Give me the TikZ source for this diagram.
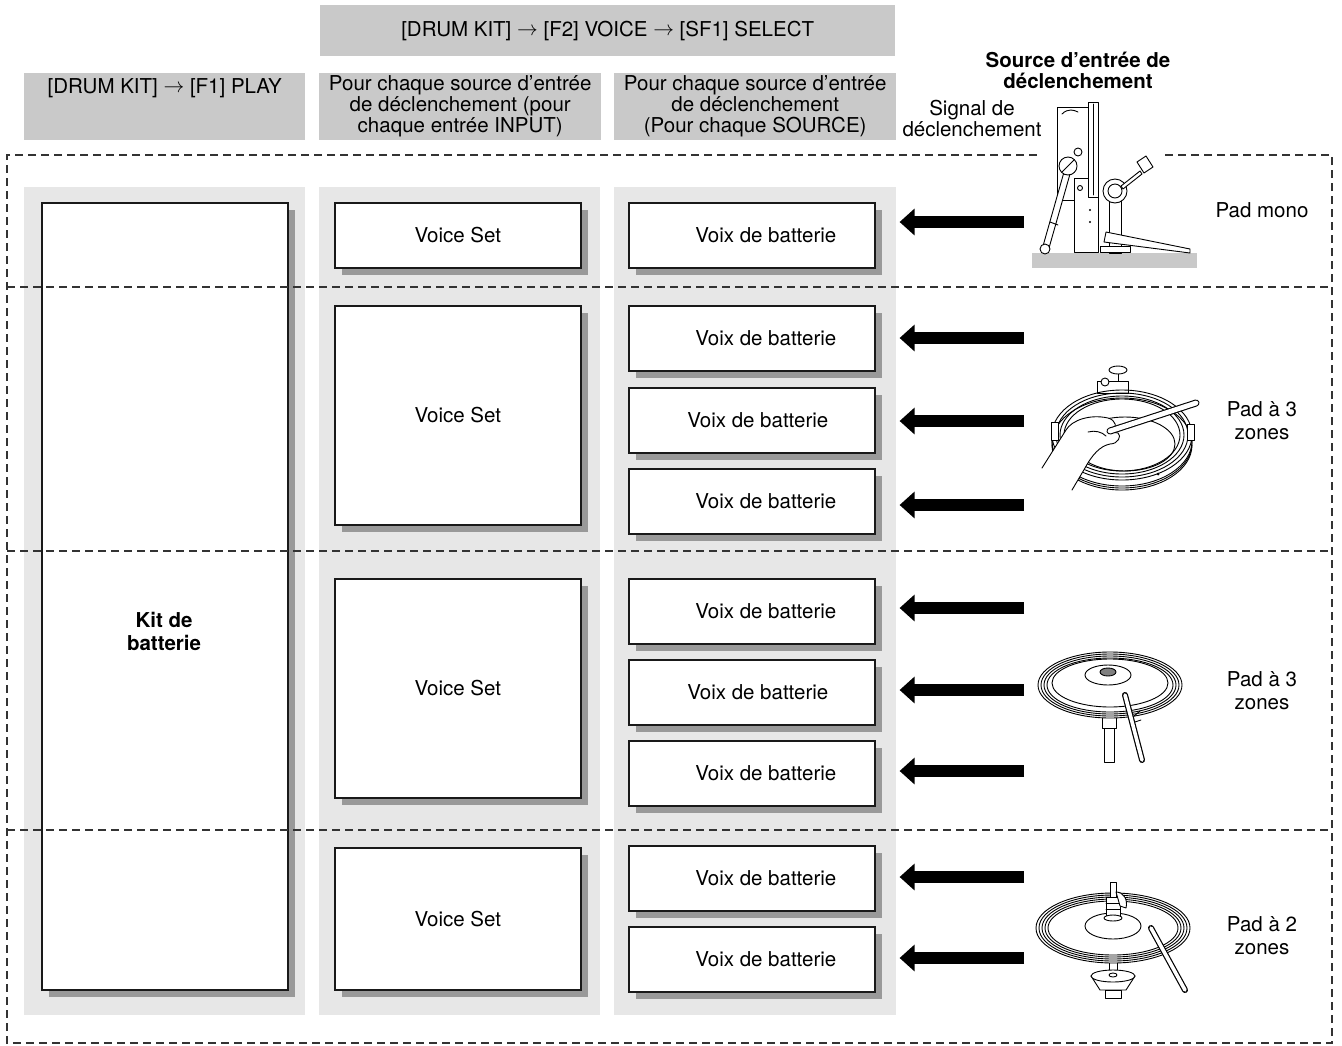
\documentclass[tikz,border=0pt]{standalone}
\usepackage{fontspec}
\setmainfont{TeX Gyre Heros}
\usetikzlibrary{arrows.meta,shadows}
\definecolor{hdr}{gray}{0.79}
\definecolor{colbg}{gray}{0.905}
\definecolor{shad}{gray}{0.6}
\newcommand{\ra}{\raisebox{0.5pt}{$\rightarrow$}}
\newcommand{\txt}{\fontsize{20.5}{21}\selectfont}
\newcommand{\txtb}{\fontsize{20.5}{23}\selectfont}
\begin{document}
\begin{tikzpicture}[x=1pt,y=-1pt,
  box/.style={draw=black!90, line width=1.6pt, fill=white, inner sep=0pt, anchor=north west,
    general shadow={fill=shad, shadow xshift=7pt, shadow yshift=-7pt}, font=\txt},
  hdrbox/.style={fill=hdr, inner sep=0pt, anchor=north west, align=center, font=\txt},
  colbox/.style={fill=colbg, inner sep=0pt, anchor=north west, minimum width=281pt, minimum height=828pt},
  sepline/.style={draw=black!80, line width=1.2pt, dash pattern=on 8pt off 5pt},
  bigarrow/.style={line width=12pt, -{Triangle[width=26pt,length=15pt]}, shorten >=24pt},
  ill/.style={line width=0.9pt, line join=round, line cap=round},
  lbl/.style={align=center, inner sep=0pt, font=\txtb},
]
\useasboundingbox (0,0) rectangle (1342,1045);
% headers
\node[hdrbox, minimum width=575pt, minimum height=51pt] (hdrTop) at (320,5) {[DRUM KIT] \ra{} [F2] VOICE \ra{} [SF1] SELECT};
\node[hdrbox, minimum width=281pt, minimum height=67pt] (hdrL) at (24,73) {[DRUM KIT] \ra{} [F1] PLAY\\~\\~};
\node[hdrbox, minimum width=282pt, minimum height=67pt] (hdrM) at (319,73) {Pour chaque source d’entrée\\de déclenchement (pour\\chaque entrée INPUT)};
\node[hdrbox, minimum width=282pt, minimum height=67pt] (hdrR) at (614,73) {Pour chaque source d’entrée\\de déclenchement\\(Pour chaque SOURCE)};
\node[lbl, font=\txt\bfseries] (srcT) at (1078,70) {Source d’entrée de\\déclenchement};
\node[lbl, font=\txt] (sigT) at (972,118) {Signal de\\déclenchement};
% column backgrounds
\node[colbox] (colL) at (24,187) {};
\node[colbox] (colM) at (319,187) {};
\node[colbox, minimum width=282pt] (colR) at (614,187) {};
% kit
\node[box, minimum width=246pt, minimum height=787pt] (kit) at (41,202) {};
\node[lbl, font=\txtb\bfseries] (kitT) at (164,631) {Kit de\\batterie};
% voice sets
\node[box, minimum width=246pt, minimum height=65pt] (vs1) at (334,202) {Voice Set};
\node[box, minimum width=246pt, minimum height=219pt] (vs2) at (334,305) {Voice Set};
\node[box, minimum width=246pt, minimum height=219pt] (vs3) at (334,578) {Voice Set};
\node[box, minimum width=246pt, minimum height=142pt] (vs4) at (334,847) {Voice Set};
% drum voices
\tikzset{vd/.style={box, minimum width=246pt, minimum height=65pt}}
\node[vd] (vd1) at (628,202) {\hspace*{28pt}Voix de batterie};
\node[vd] (vd2) at (628,305) {\hspace*{28pt}Voix de batterie};
\node[vd] (vd3) at (628,387) {\hspace*{12pt}Voix de batterie};
\node[vd] (vd4) at (628,468) {\hspace*{28pt}Voix de batterie};
\node[vd] (vd5) at (628,578) {\hspace*{28pt}Voix de batterie};
\node[vd] (vd6) at (628,659) {\hspace*{12pt}Voix de batterie};
\node[vd] (vd7) at (628,740) {\hspace*{28pt}Voix de batterie};
\node[vd] (vd8) at (628,845) {\hspace*{28pt}Voix de batterie};
\node[vd] (vd9) at (628,926) {\hspace*{28pt}Voix de batterie};
% arrows
\foreach \i/\y in {1/222,2/338,3/421,4/505,5/608,6/690,7/771,8/877,9/958}{
  \coordinate (s\i) at (1024,\y);
  \draw[bigarrow] (s\i) -- (s\i -| vd\i.east);
}
% dashed frame and separators
\draw[sepline] (1037,155) -- (7,155) -- (7,1043) -- (1332,1043) -- (1332,155) -- (1162,155);
\foreach \y in {287,551,830}{\draw[sepline] (7,\y) -- (1332,\y);}
% pad labels
\node[lbl] (padA) at (1262,210) {Pad mono};
\node[lbl] (padB) at (1262,421) {Pad à 3\\zones};
\node[lbl] (padC) at (1262,691) {Pad à 3\\zones};
\node[lbl] (padD) at (1262,936) {Pad à 2\\zones};
% ---- kick pad illustration
\fill[hdr] (1032,253) rectangle (1197,268);
\draw[ill,fill=white] (1057,107) rectangle (1090,200);
\draw[ill,fill=white] (1074,178) rectangle (1098,252);
\draw[ill,fill=white] (1088,102) rectangle (1098,197);
\draw[ill] (1093,104) -- (1093,195);
\draw[ill] (1062,114) .. controls (1068,108) and (1074,110) .. (1078,112);
\draw[ill,fill=white] (1078,152) circle [radius=4];
\draw[ill,fill=white] (1080,188) circle [radius=2.5];
\fill (1090,210) circle [radius=1.2];
\fill (1090,222) circle [radius=1.2];
\draw[ill,fill=white] (1064,172) -- (1070,174) -- (1049,248) -- (1043,246) -- cycle;
\draw[ill] (1050,222) -- (1058,225);
\draw[ill,fill=white] (1045,249) circle [radius=5];
\draw[ill,fill=white] (1068,166) circle [radius=9];
\draw[ill] (1062,172) -- (1074,160);
\draw[ill,fill=white] (1109,196) rectangle (1121,253);
\draw[ill,fill=white] (1106,232) -- (1190,249) -- (1190,253) -- (1104,242) -- cycle;
\draw[ill,fill=white] (1100,246) rectangle (1130,252);
\draw[ill,fill=white] (1115,191) circle [radius=12];
\draw[ill,fill=white] (1115,191) circle [radius=7];
\draw[ill,fill=white] (1121,186) -- (1140,171) -- (1142,174) -- (1123,189) -- cycle;
\draw[ill,fill=white] (1137,162) -- (1146,156) -- (1153,167) -- (1144,173) -- cycle;
% ---- snare pad illustration
\draw[ill,fill=white] (1097,381) rectangle (1128,393);
\draw[ill] (1118,374) -- (1118,381);
\draw[ill,fill=white] (1118,370) ellipse [x radius=9, y radius=4];
\draw[ill,fill=white] (1105,382) circle [radius=4];
\draw[ill,fill=white] (1122,443) ellipse [x radius=70, y radius=45];
\foreach \dy in {4,8}{
  \draw[ill] (1192,437+\dy) arc [start angle=0, end angle=180, x radius=70, y radius=45];
}
\foreach \rx/\ry in {70/45,66/42,62/39,58/36}{
  \draw[ill] (1122,435) ellipse [x radius=\rx, y radius=\ry];
}
\draw[ill] (1125,444) ellipse [x radius=50, y radius=27];
\draw[ill,fill=white] (1051,422) rectangle (1058,440);
\draw[ill,fill=white] (1187,424) rectangle (1194,440);
\fill (1082,470) circle [radius=1.5];
\fill (1158,474) circle [radius=1.5];
\draw[ill,fill=white] (1042,468) -- (1066,430) .. controls (1072,420) and (1090,414) .. (1108,418)
  .. controls (1116,420) and (1118,428) .. (1112,432) -- (1118,433)
  .. controls (1122,436) and (1118,444) .. (1110,444)
  .. controls (1100,446) and (1092,455) .. (1085,468) -- (1072,490);
\draw[ill] (1088,432) .. controls (1095,430) and (1102,432) .. (1106,436);
\draw[line width=7pt, line cap=round] (1110,431) -- (1196,403);
\draw[line width=4.8pt, line cap=round, white] (1110,431) -- (1196,403);
% ---- cymbal illustration
\draw[ill,fill=white] (1104,716) rectangle (1114,762);
\draw[ill,fill=white] (1102,714) rectangle (1116,728);
\foreach \rx/\ry in {72/33,69/31,66/29,63/27}{
  \draw[ill,fill=white] (1110,685) ellipse [x radius=\rx, y radius=\ry];
}
\draw[ill] (1110,683) ellipse [x radius=58, y radius=24];
\draw[ill,fill=white] (1108,675) ellipse [x radius=23, y radius=10];
\draw[ill,fill=gray] (1108,672) ellipse [x radius=8, y radius=4];
\draw[line width=6pt, line cap=round] (1125,695) -- (1142,760);
\draw[line width=3.6pt, line cap=round, white] (1125,695) -- (1142,760);
\draw[ill] (1134,716) -- (1140,711);
\draw[ill] (1135,722) -- (1141,720);
% ---- hi-hat illustration
\draw[ill,fill=white] (1109,955) rectangle (1117,978);
\draw[ill,fill=white] (1091,976) -- (1135,976) -- (1126,990) -- (1100,990) -- cycle;
\draw[ill,fill=white] (1113,976) ellipse [x radius=22, y radius=6];
\draw[ill,fill=white] (1105,990) rectangle (1121,998);
\draw[ill] (1113,975) ellipse [x radius=4, y radius=2];
\foreach \rx/\ry in {77/35,74/33,71/31,68/29,65/27}{
  \draw[ill,fill=white] (1113,928) ellipse [x radius=\rx, y radius=\ry];
}
\draw[ill,fill=white] (1113,926) ellipse [x radius=28, y radius=13];
\draw[ill,fill=white] (1110,882) rectangle (1116,905);
\draw[ill,fill=white] (1106,897) rectangle (1120,918);
\draw[ill] (1106,903) -- (1120,903);
\draw[ill] (1106,909) -- (1120,909);
\draw[ill,fill=white] (1116,892) .. controls (1124,892) and (1128,900) .. (1126,908) -- (1120,906) -- cycle;
\draw[ill,fill=white] (1113,918) ellipse [x radius=9, y radius=3];
\draw[line width=6pt, line cap=round] (1151,928) -- (1185,990);
\draw[line width=3.6pt, line cap=round, white] (1151,928) -- (1185,990);
\end{tikzpicture}
\end{document}
